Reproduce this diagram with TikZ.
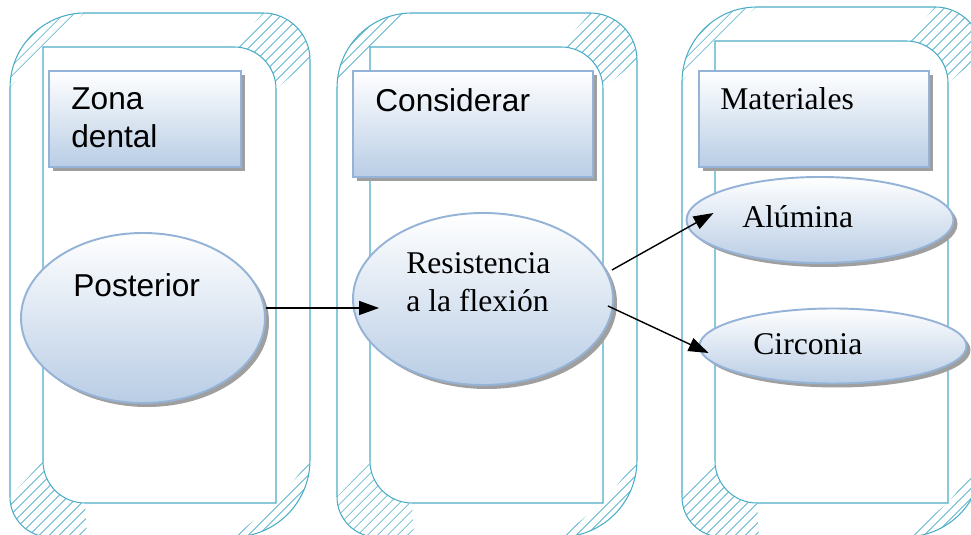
\documentclass[tikz,border=0pt]{standalone}
\usepackage{fontspec}
\setmainfont{Liberation Serif}
\setsansfont{Liberation Sans}
\usepackage{color}
\usetikzlibrary{
    arrows.meta,
    positioning,
    calc,
    shapes.geometric,
    shadows,
    patterns.meta,
}

\definecolor{panelline}{RGB}{75,172,198}
\definecolor{boxedge}{RGB}{149,179,215}
\definecolor{boxfill}{RGB}{185,205,229}

\begin{document}
\begin{tikzpicture}[
    x=0.2mm, y=0.2mm,
    panel/.style={draw=panelline, line width=0.6pt},
    bevel/.style={pattern={Lines[angle=45, distance=4pt, line width=0.45pt]}, pattern color=panelline},
    heading/.style={draw=boxedge, line width=1.1pt, top color=white, bottom color=boxfill,
        drop shadow={shadow xshift=0.08cm, shadow yshift=-0.08cm, fill=gray!75, opacity=1}},
    oval/.style={heading, ellipse, inner sep=0pt},
    sanslabel/.style={font=\sffamily\fontsize{18}{22}\selectfont, anchor=base west, inner sep=0pt, align=left},
    seriflabel/.style={sanslabel, font=\rmfamily\fontsize{18}{22}\selectfont},
    link/.style={-{Triangle[length=0.4cm, width=0.28cm]}, line width=0.8pt},
]
\useasboundingbox (0,0) rectangle (971,535);
\clip (0,0) rectangle (971,535);

% the three framed columns
\foreach \X/\T in {10/522, 337/522, 682/528} {
    \path[bevel] (\X,\T-75) arc[start angle=180, end angle=90, radius=75] -- (\X+33,\T-34) -- cycle;
    \path[bevel] (\X+253,\T) arc[start angle=90, end angle=0, radius=47] -- (\X+266,\T-76)
        arc[start angle=0, end angle=90, radius=42] -- cycle;
    \path[bevel] (\X,38) -- (\X+33,74) arc[start angle=180, end angle=270, radius=42] -- (\X+77,-2)
        -- (\X+40,-2) arc[start angle=270, end angle=180, radius=40] -- cycle;
    \path[bevel] (\X+300,75) arc[start angle=0, end angle=-90, radius=77] -- (\X+266,32) -- cycle;
    \draw[panel] (\X,\T-75) arc[start angle=180, end angle=90, radius=75] -- (\X+253,\T)
        arc[start angle=90, end angle=0, radius=47] -- (\X+300,75)
        arc[start angle=0, end angle=-90, radius=77] -- (\X+40,-2)
        arc[start angle=270, end angle=180, radius=40] -- cycle;
    \draw[panel] (\X+33,\T-34) -- (\X+224,\T-34) arc[start angle=90, end angle=0, radius=42]
        -- (\X+266,32) -- (\X+75,32) arc[start angle=270, end angle=180, radius=42] -- cycle;
}

\node[heading, minimum width=3.84cm, minimum height=1.92cm] (zone) at (145,416) {};
\node[heading, minimum width=4.8cm, minimum height=2.12cm] (consider) at (473,411) {};
\node[heading, minimum width=4.6cm, minimum height=1.92cm] (material) at (814,416) {};

\node[oval, minimum width=4.88cm, minimum height=3.4cm] (posterior) at (143,217) {};
\node[oval, minimum width=5.2cm, minimum height=3.44cm] (resistance) at (483,236) {};
\node[oval, minimum width=5.34cm, minimum height=1.72cm] (alumina) at (820,315) {};
\node[oval, minimum width=5.34cm, minimum height=1.5cm] (zirconia) at (833,189) {};

% multi-line labels sit on their last baseline
\node[sanslabel] (zonetext) at (71,387) {Zona\\dental};
\node[sanslabel] (considertext) at (375,423) {Considerar};
\node[seriflabel] (materialtext) at (720,425) {Materiales};
\node[sanslabel] (posteriortext) at (73,238) {Posterior};
\node[seriflabel] (resistancetext) at (406,223) {Resistencia\\a la flexión};
\node[seriflabel] (aluminatext) at (742,307) {Alúmina};
\node[seriflabel] (zirconiatext) at (753,180) {Circonia};

\draw[link] ($(posterior.east)+(0,10)$) -- ($(resistance.west)+(27,-9)$);
\draw[link] ($(resistance.east)+(-2,29)$) -- ($(alumina.west)+(28,7)$);
\draw[link] ($(resistance.east)+(-6,-7)$) -- ($(zirconia.west)+(10,-7)$);

\end{tikzpicture}
\end{document}
